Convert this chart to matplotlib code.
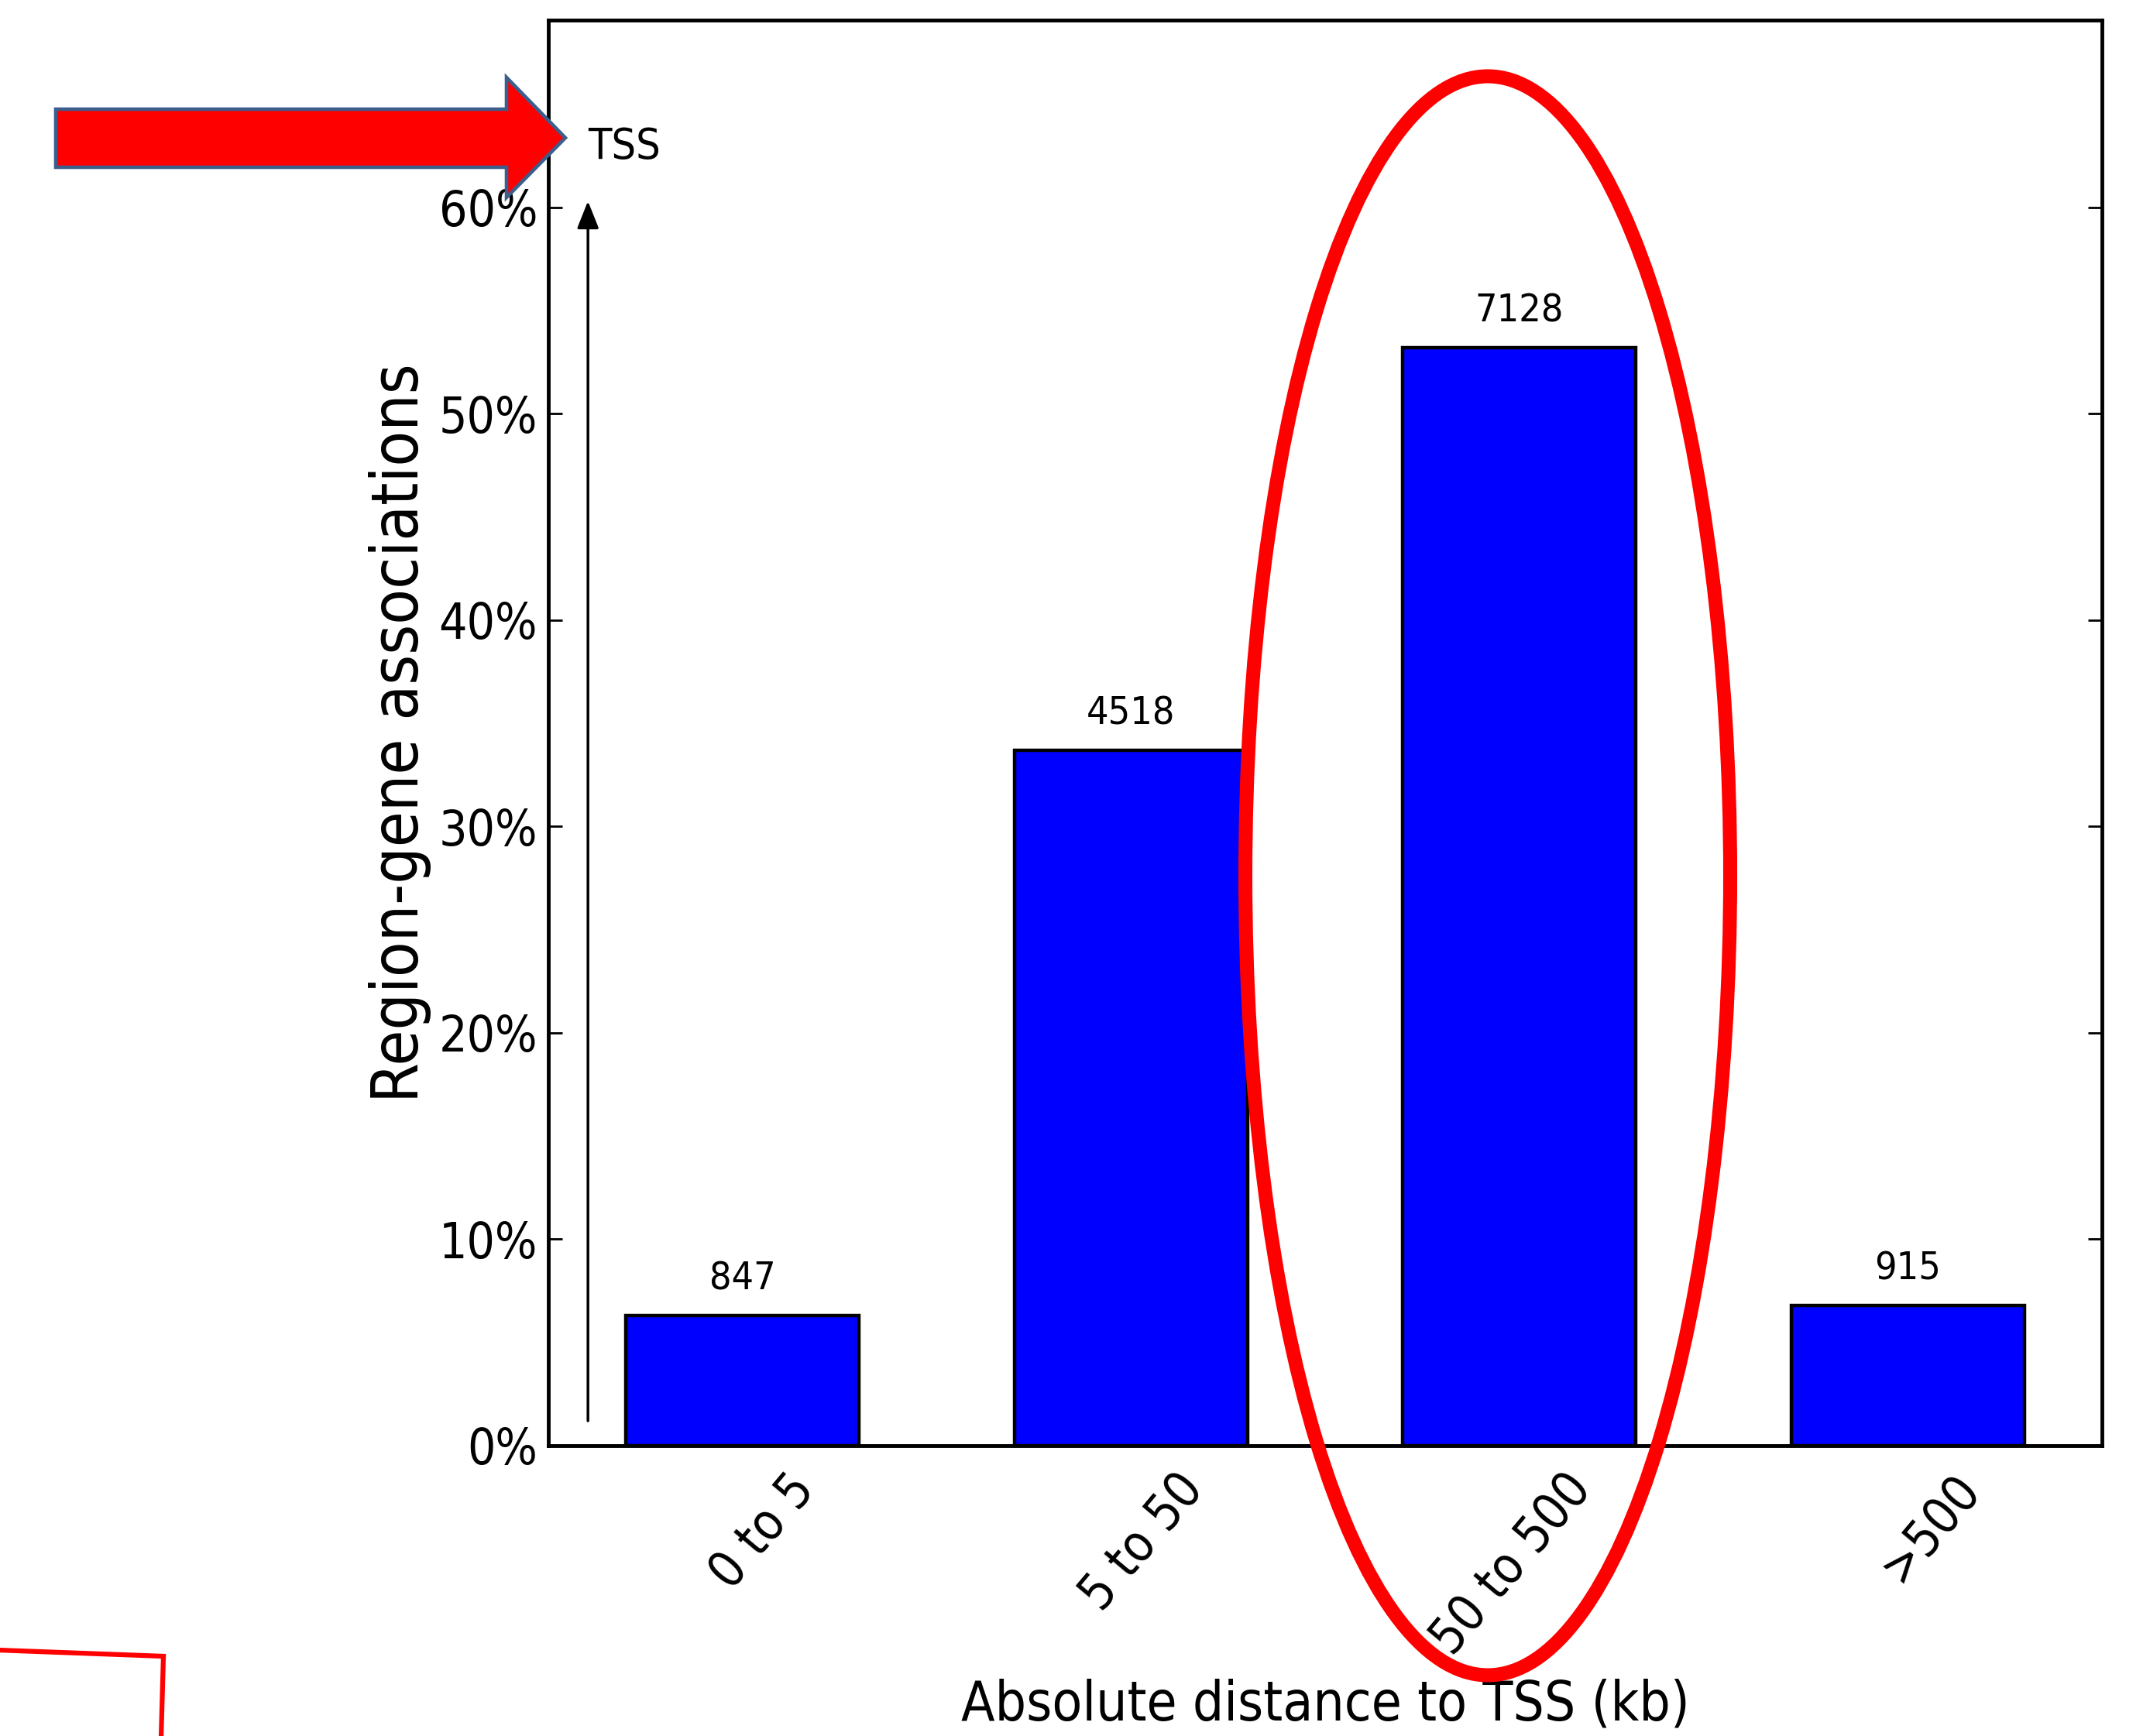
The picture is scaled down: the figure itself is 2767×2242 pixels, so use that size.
import matplotlib
matplotlib.use('Agg')
import matplotlib.pyplot as plt
from matplotlib.patches import Polygon, Ellipse
from matplotlib.lines import Line2D
from matplotlib.transforms import ScaledTranslation

# ---- data ----
categories = ['0 to 5', '5 to 50', '50 to 500', '>500']
percent_values = [6.3, 33.7, 53.2, 6.8]
count_labels = ['847', '4518', '7128', '915']
ytick_values = [0, 10, 20, 30, 40, 50, 60]
ytick_labels = ['0%', '10%', '20%', '30%', '40%', '50%', '60%']
xlabel_text = 'Absolute distance to TSS (kb)'
ylabel_text = 'Region-gene associations'
tss_text = 'TSS'

plt.rcParams['font.family'] = ['DejaVu Sans']
plt.rcParams['font.stretch'] = 'condensed'

W, H = 2767, 2242
fig = plt.figure(figsize=(W / 100, H / 100), dpi=100)
fig.patch.set_facecolor('white')

def fx(px):
    return px / W

def fy(py):
    return 1 - py / H

ax = fig.add_axes([fx(708), fy(1867), fx(2714) - fx(708), fy(26) - fy(1867)])

xpos = list(range(len(categories)))
ax.bar(xpos, percent_values, width=0.6, color='#0000FF', edgecolor='black',
       linewidth=3.2, zorder=2)

ax.set_xlim(-0.5, 3.5)
ax.set_ylim(0, 69.07)

for sp in ax.spines.values():
    sp.set_linewidth(3.5)

ax.set_yticks(ytick_values)
ax.set_yticklabels(ytick_labels)
ax.tick_params(axis='y', direction='in', length=13, width=2, labelsize=46, pad=10,
               left=True, right=True)
ax.set_xticks(xpos)
ax.set_xticklabels(categories, rotation=50)
ax.tick_params(axis='x', length=0, labelsize=47, pad=18)
shift = ScaledTranslation(1.06, 0, fig.dpi_scale_trans)
for lbl in ax.get_xticklabels():
    lbl.set_ha('right')
    lbl.set_transform(lbl.get_transform() + shift)

ax.set_ylabel(ylabel_text, fontsize=60)
ax.yaxis.set_label_coords(-0.0755, 0.5)
ax.set_xlabel(xlabel_text, fontsize=51)
ax.xaxis.set_label_coords(0.5, -0.163)

for xi, v, lbl in zip(xpos, percent_values, count_labels):
    ax.annotate(lbl, xy=(xi, v), xytext=(0, 24), textcoords='offset points',
                ha='center', va='baseline', fontsize=36)

# TSS arrow inside axes
arrow_x = -0.398
ax.annotate('', xy=(arrow_x, 60.3), xytext=(arrow_x, 1.2),
            arrowprops=dict(arrowstyle='-|>,head_length=1.08,head_width=0.43',
                            mutation_scale=20, lw=2.5, color='black',
                            shrinkA=0, shrinkB=0))
ax.text(arrow_x, 62.9, tss_text, ha='left', va='center', fontsize=40)

# Red block arrow (overlay)
arrow_pts = [(72, 141), (654, 141), (654, 100), (730, 178), (654, 255),
             (654, 216), (72, 216)]
poly = Polygon([(fx(a), fy(b)) for a, b in arrow_pts], closed=True,
               transform=fig.transFigure, facecolor='#FF0000',
               edgecolor='#3B5E8C', linewidth=3.3, zorder=20)
fig.add_artist(poly)

# Red ellipse (overlay)
ell = Ellipse((fx(1921), fy(1131)), width=626 / W, height=2065 / H,
              transform=fig.transFigure, facecolor='none', edgecolor='#FF0000',
              linewidth=13, zorder=21)
fig.add_artist(ell)

# Partial red rectangle at bottom-left
rect_pts = [(-30, 2130), (211, 2139), (207, 2280)]
line = Line2D([fx(a) for a, b in rect_pts], [fy(b) for a, b in rect_pts],
              transform=fig.transFigure, color='#FF0000', linewidth=4.5,
              solid_joinstyle='miter', zorder=22)
fig.add_artist(line)

fig.savefig('out.png', dpi=100)
